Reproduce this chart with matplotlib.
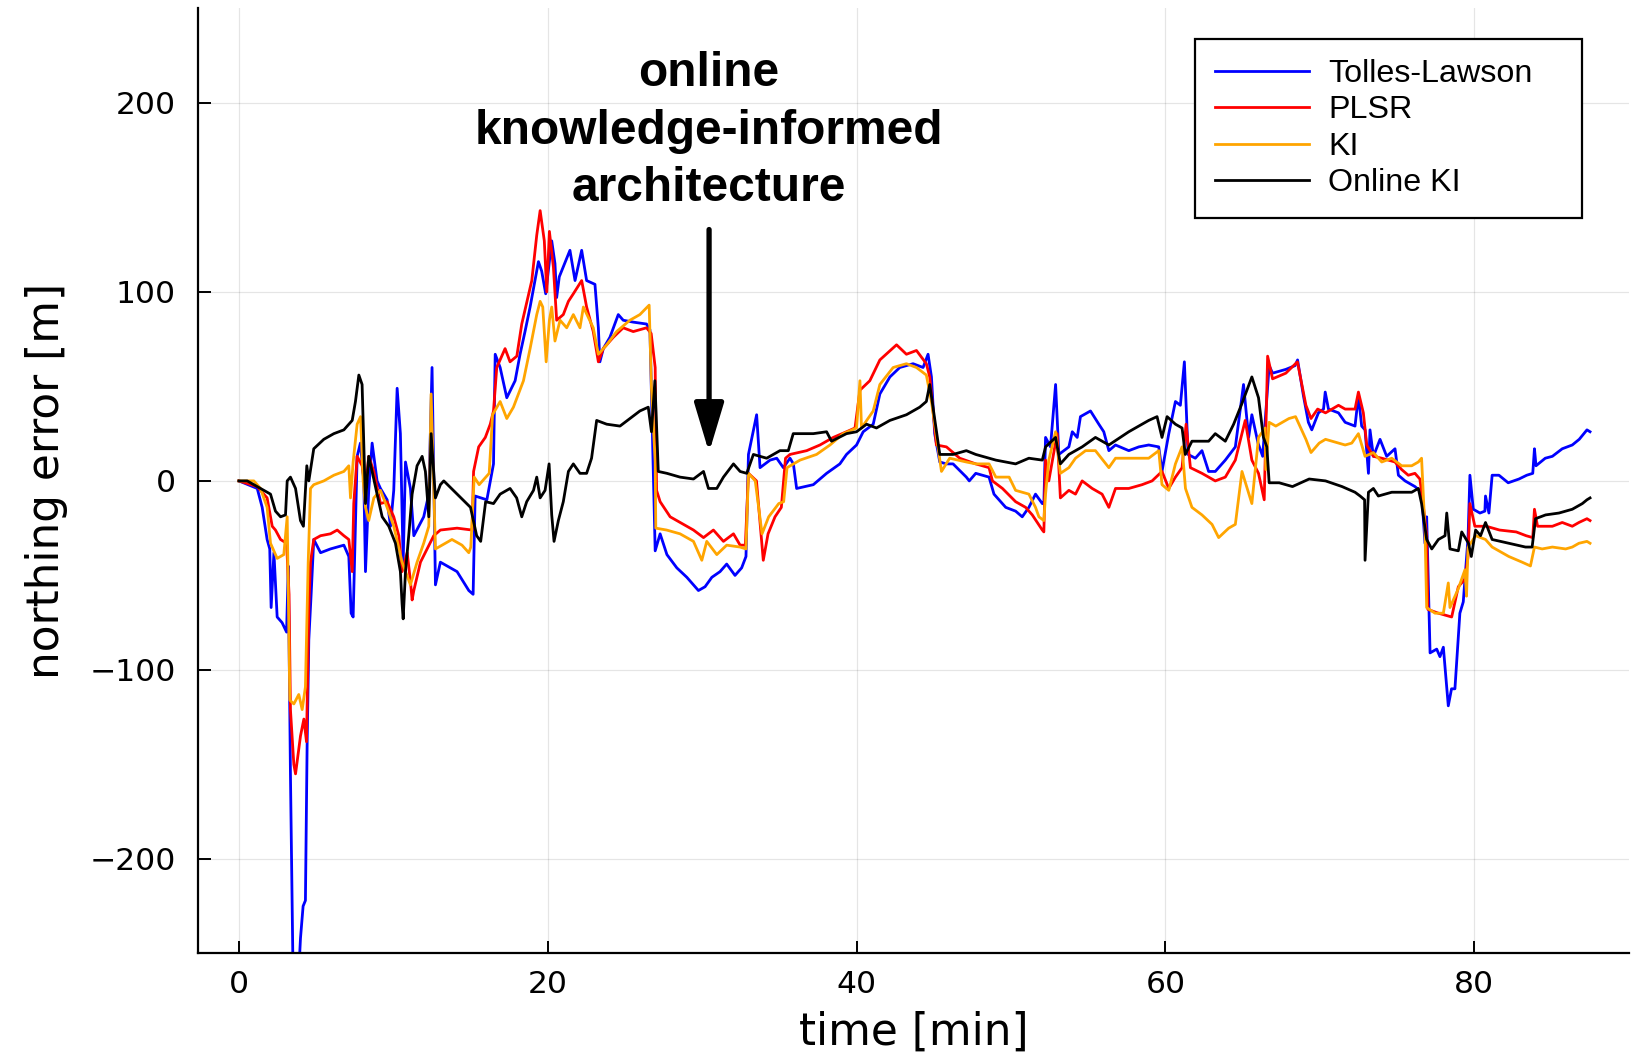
import matplotlib.pyplot as plt
from matplotlib.patches import ArrowStyle

# northing error [m] vs time [min] for each compensation model
t_tl = [0, 1.19, 1.51, 1.83, 2.0, 2.09, 2.27, 2.48, 2.8, 3.09, 3.2, 3.34, 3.5, 3.88, 3.99, 4.16, 4.31, 4.42, 4.53, 4.68,
        4.85, 5.29, 5.93, 6.8, 7.12, 7.27, 7.4, 7.66, 7.87, 8.09, 8.2, 8.41, 8.63, 8.95, 9.17, 9.6, 9.82, 10.03, 10.25,
        10.46, 10.64, 10.79, 11.11, 11.33, 11.97, 12.3, 12.51, 12.73, 13.05, 14.13, 14.89, 15.17, 15.3, 16.06, 16.49,
        16.6, 16.92, 17.35, 17.89, 18.21, 18.53, 18.86, 19.4, 19.61, 19.87, 20.26, 20.47, 20.58, 20.75, 21.44, 21.77,
        22.2, 22.52, 23.06, 23.28, 23.38, 23.6, 24.03, 24.57, 24.89, 25.54, 26.4, 26.62, 26.96, 27.28, 27.72, 28.36,
        29.01, 29.76, 30.19, 30.63, 31.16, 31.59, 32.13, 32.56, 32.84, 33.0, 33.53, 33.75, 34.4, 34.83, 35.26, 35.69,
        35.91, 36.12, 37.2, 38.06, 38.92, 39.35, 40.0, 40.43, 41.08, 41.51, 42.16, 42.8, 43.66, 44.31, 44.63, 44.85,
        45.06, 45.39, 45.82, 46.25, 47.11, 47.3, 47.72, 48.58, 48.9, 49.66, 50.3, 50.73, 51.16, 51.59, 52.03, 52.13,
        52.24, 52.56, 52.89, 53.1, 53.75, 53.97, 54.29, 54.5, 55.15, 55.69, 56.01, 56.34, 56.77, 57.63, 58.28, 58.92,
        59.57, 59.78, 60.22, 60.65, 60.97, 61.23, 61.47, 61.94, 62.37, 62.8, 63.23, 63.88, 64.53, 65.06, 65.39, 65.6,
        66.0, 66.3, 66.72, 66.94, 67.8, 68.4, 68.56, 68.94, 69.26, 69.48, 69.91, 70.24, 70.35, 70.56, 71.21, 71.64,
        72.28, 72.5, 72.71, 72.93, 73.15, 73.25, 73.47, 73.9, 74.33, 74.87, 75.09, 75.52, 76.16, 76.59, 76.81, 76.92,
        77.14, 77.57, 77.78, 78.0, 78.32, 78.53, 78.75, 79.07, 79.29, 79.6, 79.72, 79.94, 80.37, 80.69, 80.73, 80.95,
        81.16, 81.6, 82.2, 82.9, 83.4, 83.79, 83.9, 84.0, 84.6, 85.06, 85.7, 86.35, 86.8, 87.3, 87.5]
tolles_lawson = [0, -4, -14, -31, -36, -67, -38, -72, -75, -80, -45, -155, -255, -260, -242, -225, -222, -140, -84, -60,
                 -31, -38, -36, -34, -40, -70, -72, 13, 20, 0, -48, -5, 20, 0, -4, -10, -24, -5, 49,
                 25, -43, 10, -4, -29, -19, -7, 60, -55, -43, -48, -58, -60, -8, -10, 9,
                 67, 60, 44, 53, 67, 79, 92, 116, 111, 99, 127, 115, 97, 108, 122, 106,
                 122, 106, 104, 81, 63, 70, 76, 88, 85, 84, 83, 80, -37, -28, -39, -46,
                 -51, -58, -56, -51, -48, -44, -50, -46, -40, 14, 35, 7, 11, 12, 7, 12,
                 9, -4, -2, 4, 9, 14, 19, 26, 30, 46, 55, 60, 62, 60, 67, 55,
                 25, 10, 9, 9, 2, 0, 4, 2, -7, -14, -16, -19, -14, -7, -12, -12,
                 23, 18, 51, 14, 18, 26, 23, 34, 37, 30, 26, 16, 19, 16, 18, 19,
                 18, 5, 25, 42, 40, 63, 14, 12, 16, 5, 5, 11, 18, 51, 23, 35,
                 20, 13, 61, 57, 59, 61, 64, 45, 31, 27, 36, 38, 47, 38, 36, 31,
                 29, 45, 29, 27, 4, 27, 13, 22, 13, 17, 3, 0, -3, -6, -33, -19,
                 -91, -89, -93, -88, -119, -110, -110, -70, -64, -30, 3, -15, -17, -16, -8, -17,
                 3, 3, -1, 1, 3, 4, 17, 8, 12, 13, 17, 19, 22, 27, 26]

t_plsr = [0, 1.19, 1.83, 2.16, 2.37, 2.7, 3.09, 3.25, 3.34, 3.56, 3.67, 3.99, 4.21, 4.38, 4.53, 4.64, 4.85, 5.29, 5.93,
          6.37, 6.8, 7.12, 7.34, 7.44, 7.66, 7.98, 8.2, 8.41, 8.74, 9.17, 9.6, 10.03, 10.36, 10.57, 10.9, 11.11, 11.22,
          11.33, 11.76, 12.19, 12.62, 13.05, 14.13, 15.1, 15.2, 15.53, 15.96, 16.28, 16.49, 16.7, 17.24, 17.56, 18.0,
          18.32, 18.6, 18.97, 19.29, 19.51, 19.78, 19.94, 20.11, 20.37, 20.58, 21.01, 21.34, 21.66, 22.2, 22.52, 22.95,
          23.28, 23.6, 24.25, 24.89, 25.54, 26.4, 26.7, 26.96, 27.05, 27.28, 27.93, 28.36, 29.44, 30.09, 30.73, 31.38,
          32.03, 32.46, 32.8, 33.0, 33.52, 33.96, 34.27, 34.72, 35.13, 35.4, 35.69, 36.77, 37.63, 38.49, 39.35, 39.9,
          40.22, 40.86, 41.51, 42.59, 43.23, 43.88, 44.52, 44.74, 45.17, 45.82, 46.68, 47.72, 48.58, 48.8, 49.45, 50.3,
          50.95, 51.38, 52.03, 52.13, 52.24, 52.45, 52.99, 53.2, 53.75, 54.18, 54.61, 55.26, 55.9, 56.34, 56.77, 57.63,
          58.49, 59.14, 59.78, 60.22, 60.65, 61.08, 61.34, 61.62, 62.37, 63.23, 63.88, 64.53, 64.96, 65.17, 65.6, 66.03,
          66.4, 66.62, 66.94, 67.8, 68.55, 69.1, 69.43, 69.86, 70.37, 71.21, 71.64, 72.28, 72.5, 72.82, 73.04, 73.47,
          74.01, 74.87, 75.3, 75.73, 76.16, 76.48, 76.7, 76.92, 77.0, 77.68, 78.54, 78.97, 79.4, 79.6, 79.72, 80.04,
          80.78, 81.64, 82.72, 83.36, 83.79, 83.9, 84.1, 85.06, 85.7, 86.35, 86.78, 87.3, 87.5]
plsr = [0, -3, -9, -24, -26, -31, -33, -60, -121, -150, -155, -135, -126, -138, -67, -43, -31, -29, -28,
        -26, -29, -31, -48, -12, 13, 8, -4, 13, 5, -12, -11, -19, -29, -48, -38, -53, -63,
        -58, -43, -36, -29, -26, -25, -26, 5, 18, 23, 30, 37, 60, 70, 63, 66,
        83, 93, 106, 130, 143, 127, 100, 132, 113, 85, 88, 95, 99, 106, 92, 79,
        63, 70, 76, 81, 79, 81, 78, 60, -5, -11, -19, -21, -26, -30, -26, -32,
        -28, -34, -34, 4, 0, -42, -28, -19, -14, 12, 14, 16, 19, 23, 26, 28,
        48, 53, 64, 72, 67, 69, 62, 55, 19, 18, 12, 9, 7, 0, -4, -11,
        -14, -18, -26, -27, 11, 0, 25, -9, -5, -7, 0, -4, -7, -14, -4, -4,
        -2, 0, 5, -4, 2, 7, 30, 7, 4, 0, 2, 11, 25, 32, 11, 4,
        -10, 66, 54, 57, 63, 40, 33, 38, 36, 40, 38, 38, 47, 36, 19, 13,
        12, 10, 6, 3, 4, 1, -13, -29, -68, -70, -72, -56, -52, -40, -12, -24,
        -24, -26, -27, -29, -30, -15, -24, -24, -22, -24, -22, -20, -21]

t_ki = [0, 0.54, 0.97, 1.4, 1.83, 2.05, 2.48, 2.91, 3.13, 3.3, 3.56, 3.88, 4.1, 4.31, 4.49, 4.64, 4.85, 5.5, 6.15,
        6.8, 7.12, 7.23, 7.4, 7.66, 7.88, 8.05, 8.2, 8.41, 8.74, 9.17, 9.6, 10.03, 10.57, 11.11, 11.54, 11.97, 12.3,
        12.45, 12.73, 13.16, 13.8, 14.45, 14.89, 15.02, 15.24, 15.56, 16.21, 16.43, 16.92, 17.35, 17.78, 18.43, 18.86,
        19.29, 19.51, 19.68, 19.9, 20.11, 20.26, 20.47, 20.8, 21.23, 21.66, 22.09, 22.31, 22.95, 23.28, 23.82, 24.46,
        25.32, 25.97, 26.57, 26.72, 26.96, 27.0, 27.7, 28.57, 29.44, 29.98, 30.3, 30.95, 31.59, 32.46, 32.84, 33.0,
        33.44, 33.88, 34.31, 34.96, 35.28, 35.5, 36.34, 37.41, 38.28, 39.14, 40.0, 40.22, 40.32, 41.08, 41.51, 42.37,
        43.23, 43.88, 44.52, 44.85, 45.5, 46.03, 47.11, 47.72, 48.58, 49.02, 49.88, 50.3, 51.16, 51.59, 51.81, 52.13,
        52.24, 52.45, 52.89, 53.2, 53.75, 54.18, 54.83, 55.47, 56.34, 56.77, 57.84, 58.92, 59.57, 59.78, 60.22, 60.65,
        61.08, 61.3, 61.72, 62.37, 63.02, 63.45, 64.1, 64.53, 64.96, 65.6, 66.03, 66.46, 66.5, 66.72, 67.15, 68.0,
        68.43, 69.1, 69.43, 69.96, 70.37, 71.21, 71.64, 72.07, 72.5, 72.93, 73.47, 74.01, 74.66, 75.3, 75.95, 76.38,
        76.59, 76.81, 76.92, 77.46, 78.0, 78.32, 78.43, 78.97, 79.4, 79.5, 79.6, 80.09, 80.73, 81.16, 82.24, 83.1,
        83.64, 83.9, 84.4, 85.06, 85.92, 86.35, 86.78, 87.3, 87.5]
ki = [0, 0, 0, -4, -14, -33, -41, -39, -19, -116, -118, -113, -121, -109, -43, -4, -2, 0, 3,
      5, 8, -9, 10, 30, 34, 0, -14, -21, -9, -5, -14, -24, -43, -55, -43, -33, -24,
      46, -36, -34, -31, -34, -38, -35, 2, -2, 4, 35, 42, 33, 39, 53, 70,
      88, 95, 92, 63, 85, 92, 74, 85, 81, 88, 81, 92, 81, 67, 72, 79,
      85, 88, 93, 49, 10, -25, -26, -28, -32, -42, -32, -39, -34, -35, -36, 4,
      0, -28, -19, -12, -11, 7, 11, 14, 19, 25, 28, 53, 28, 37, 51, 60,
      62, 60, 56, 42, 5, 12, 10, 9, 9, 2, 2, -5, -7, -14, -19, -21,
      -7, 11, 26, 4, 7, 12, 16, 16, 7, 12, 12, 12, 16, -2, -5, 9,
      18, -4, -14, -18, -23, -30, -25, -23, 5, -12, 23, 28, 6, 31, 29, 33,
      34, 22, 15, 20, 22, 20, 19, 20, 25, 13, 15, 10, 12, 8, 8, 10,
      12, -26, -67, -70, -70, -54, -67, -57, -47, -61, -35, -29, -31, -35, -40, -43,
      -45, -35, -36, -35, -36, -35, -33, -32, -33]

t_oki = [0, 0.54, 1.4, 2.05, 2.37, 2.7, 3.02, 3.13, 3.34, 3.67, 3.99, 4.18, 4.4, 4.53, 4.85, 5.5, 6.15, 6.8, 7.34,
         7.55, 7.77, 7.98, 8.09, 8.2, 8.41, 8.63, 8.95, 9.28, 9.71, 10.14, 10.46, 10.57, 10.64, 10.79, 11.0, 11.22,
         11.54, 11.87, 12.08, 12.3, 12.45, 12.73, 13.05, 13.27, 14.13, 15.0, 15.4, 15.66, 15.98, 16.49, 16.92, 17.56,
         17.99, 18.32, 18.64, 19.08, 19.29, 19.51, 19.83, 20.09, 20.26, 20.41, 20.69, 21.01, 21.34, 21.66, 22.09, 22.52,
         22.84, 23.17, 23.82, 24.68, 25.32, 25.97, 26.51, 26.72, 26.94, 27.16, 27.72, 28.57, 29.44, 30.09, 30.41, 30.95,
         31.38, 32.03, 32.46, 32.89, 33.32, 34.18, 35.04, 35.58, 35.9, 37.2, 38.06, 38.38, 39.35, 40.0, 40.65, 41.29,
         42.16, 43.23, 44.09, 44.52, 44.74, 45.39, 46.25, 47.11, 47.72, 49.02, 50.3, 51.16, 52.03, 52.24, 52.89, 53.2,
         53.75, 54.61, 55.47, 56.34, 57.63, 58.92, 59.46, 59.78, 60.11, 60.65, 61.08, 61.29, 61.72, 62.8, 63.23, 63.88,
         64.42, 64.96, 65.6, 66.03, 66.35, 66.57, 66.72, 67.37, 68.23, 69.31, 70.37, 71.44, 72.28, 72.61, 72.9, 72.93,
         73.15, 73.47, 73.79, 74.66, 75.95, 76.38, 76.59, 76.92, 77.25, 77.68, 78.11, 78.22, 78.43, 78.97, 79.19, 79.63,
         79.81, 80.09, 80.41, 80.73, 81.16, 82.24, 83.32, 83.75, 83.97, 84.62, 85.49, 86.35, 87.0, 87.3, 87.5]
online_ki = [0, 0, -4, -7, -16, -19, -18, 0, 2, -4, -21, -24, 8, 0, 17, 22, 25, 27, 32,
             42, 56, 51, 20, -12, 13, 5, -7, -19, -24, -33, -48, -65, -73, -48, -29, -7,
             8, 13, 5, -19, 25, -9, -2, 0, -7, -14, -29, -32, -11, -12, -7, -4,
             -9, -19, -11, -5, 2, -9, -5, 9, -18, -32, -21, -11, 5, 9, 4, 4,
             12, 32, 30, 29, 33, 37, 39, 26, 53, 5, 4, 2, 1, 5, -4, -4,
             2, 9, 5, 4, 14, 12, 16, 16, 25, 25, 26, 21, 25, 26, 30, 28,
             32, 35, 39, 42, 51, 14, 14, 16, 14, 11, 9, 12, 11, 18, 23, 9,
             14, 18, 23, 19, 26, 32, 34, 23, 34, 30, 28, 14, 21, 21, 25, 21,
             30, 41, 55, 44, 23, 18, -1, -1, -3, 1, 0, -3, -6, -8, -10, -42,
             -6, -4, -8, -6, -6, -4, -12, -31, -36, -31, -29, -17, -36, -37, -27, -33,
             -40, -26, -29, -22, -31, -33, -35, -35, -20, -18, -17, -15, -12, -10, -9]

series = [
    ("Tolles-Lawson", t_tl, tolles_lawson, "#0000ff"),
    ("PLSR", t_plsr, plsr, "#ff0000"),
    ("KI", t_ki, ki, "#ffa500"),
    ("Online KI", t_oki, online_ki, "#000000"),
]

fig = plt.figure(figsize=(16.37, 10.61), dpi=100)
ax = fig.add_axes([0.1212, 0.1014, 0.8737, 0.8907])

for name, t, v, color in series:
    ax.plot(t, v, color=color, lw=2.0, label=name)

ax.set_xlim(-2.62, 90.0)
ax.set_ylim(-250, 250)
ax.set_xticks([0, 20, 40, 60, 80])
ax.set_yticks([-200, -100, 0, 100, 200])
ax.grid(True, color="black", alpha=0.1, lw=0.9)
ax.set_axisbelow(True)

for side in ["top", "right"]:
    ax.spines[side].set_visible(False)
for side in ["left", "bottom"]:
    ax.spines[side].set_linewidth(1.6)

ax.tick_params(direction="in", length=9, width=1.4, labelsize=22.6, pad=12)
ax.tick_params(axis="y", pad=16)
for lbl in ax.get_xticklabels() + ax.get_yticklabels():
    lbl.set_family("DejaVu Sans")

ax.set_xlabel("time [min]", fontsize=31.5, family="DejaVu Sans", labelpad=8)
ax.set_ylabel("northing error [m]", fontsize=31.5, family="DejaVu Sans", labelpad=16)

# legend box stretched to a fixed width, entries stay left-aligned
leg = ax.legend(loc="upper left", bbox_to_anchor=(0.697, 0.70, 0.2703, 0.2676), mode="expand",
                prop={"family": "Liberation Sans", "size": 23.2},
                handlelength=2.9, handletextpad=0.6, labelspacing=0.2,
                borderpad=0.62, borderaxespad=0, fancybox=False, framealpha=1)
leg.get_frame().set_edgecolor("black")
leg.get_frame().set_linewidth(1.6)
for line in leg.get_lines():
    line.set_linewidth(2.0)

# annotation marking where the online model kicks in
ax.text(30.45, 227.3, "online\nknowledge-informed\narchitecture", ha="center", va="top",
        family="Liberation Sans", weight="bold", fontsize=34.5, linespacing=1.35)
ax.annotate("", xy=(30.45, 15), xytext=(30.45, 133),
            arrowprops=dict(arrowstyle=ArrowStyle("-|>", head_length=1.5, head_width=0.45),
                            mutation_scale=20, lw=3.8, color="black",
                            shrinkA=0, shrinkB=0))

fig.savefig("out.png", dpi=100)
